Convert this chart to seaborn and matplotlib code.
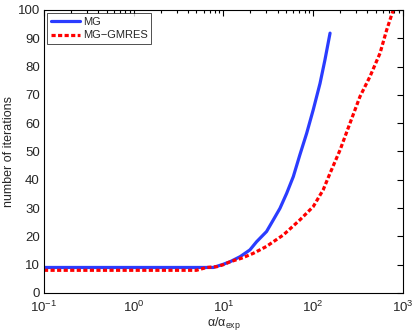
import numpy as np
import pandas as pd
import matplotlib
matplotlib.use("Agg")
import matplotlib.pyplot as plt
import seaborn as sns

# values
mg_x = [0.1, 0.3, 1, 3, 7.7, 9.9, 11.8, 15.3, 19.7, 23.4, 30.2, 35.9, 42.6,
        50.6, 60, 71, 84.5, 100, 119, 135, 154]
mg_y = [9, 9, 9, 9, 9, 10.1, 11, 12.8, 15.2, 18.1, 21.7, 25.8, 29.9,
        35.2, 41.1, 48.8, 56.4, 64.7, 74, 82.3, 91.8]

gm_x = [0.1, 0.3, 1, 3, 5, 6.5, 8.5, 10, 11.8, 16, 21.5, 30, 46.5, 71, 100,
        129, 154, 199, 257, 332, 428, 555, 658, 780]
gm_y = [8, 8, 8, 8, 8, 9, 9.3, 10, 11, 12.3, 14, 16.4, 20.5, 25.8, 30.5,
        36.4, 42.3, 50.5, 60, 69.4, 76.4, 84.7, 92.9, 100]

df = pd.concat([
    pd.DataFrame({"x": mg_x, "y": mg_y, "method": "MG"}),
    pd.DataFrame({"x": gm_x, "y": gm_y, "method": "MG\u2212GMRES"}),
])

sns.set_style("white")
plt.rcParams["font.family"] = ["Liberation Sans", "DejaVu Sans"]
plt.rcParams["mathtext.fontset"] = "custom"
plt.rcParams["mathtext.rm"] = "Liberation Sans"
plt.rcParams["mathtext.it"] = "Liberation Sans:italic"
plt.rcParams["mathtext.default"] = "regular"

fig = plt.figure(figsize=(4.15, 3.31), dpi=100)
ax = fig.add_axes([0.106, 0.115, 0.865, 0.855])

sns.lineplot(data=df, x="x", y="y", hue="method", style="method",
             palette={"MG": "#2a3cff", "MG\u2212GMRES": "#ff0000"},
             dashes={"MG": "", "MG\u2212GMRES": (1.3, 0.75)},
             linewidth=2.3, ax=ax, estimator=None, sort=False)

ax.set_xscale("log")
ax.set_xlim(0.1, 1000)
ax.set_ylim(0, 100)
ax.set_yticks(np.arange(0, 101, 10))
ax.set_xlabel(r"$\alpha/\alpha_{exp}$", fontsize=9, labelpad=0)
ax.set_ylabel("number of iterations", fontsize=9, labelpad=2)
ax.tick_params(which="both", direction="in", top=True, right=True,
               labelsize=9.5, width=0.8, color="black")
ax.tick_params(axis="x", pad=5)
ax.tick_params(axis="y", pad=3)
ax.tick_params(which="major", length=4)
ax.tick_params(which="minor", length=2)
for s in ax.spines.values():
    s.set_color("black")
    s.set_linewidth(0.8)

leg = ax.legend(loc="upper left", fontsize=8, frameon=True, fancybox=False,
                edgecolor="black", borderaxespad=0.3, handlelength=2.6,
                borderpad=0.3, labelspacing=0.35, handletextpad=0.3)
leg.get_frame().set_linewidth(0.6)

fig.savefig("out.png", dpi=100)
